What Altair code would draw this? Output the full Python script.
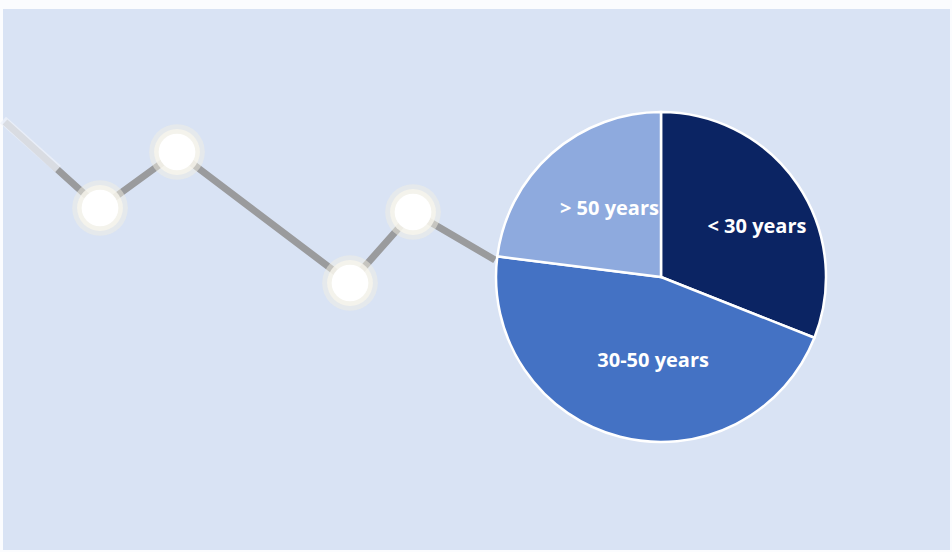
import altair as alt
import pandas as pd

# Pie data
groups = ["< 30 years", "30-50 years", "> 50 years"]
shares = [31, 46, 23]
colors = ["#0b2463", "#4472c4", "#8eaade"]

# Decorative line behind the pie (x, y in picture units)
line_x = [5, 100, 177, 350, 413, 495]
line_y = [122, 208, 152, 283, 212, 260]
dot_x = [100, 177, 350, 413]
dot_y = [208, 152, 283, 212]
fade_x = [3, 58]
fade_y = [120, 169]

W, H = 952, 552
xs = alt.Scale(domain=[0, W], range=[0, W], nice=False, zero=False)
ys = alt.Scale(domain=[0, H], range=[0, H], nice=False, zero=False)

pie_df = pd.DataFrame({"group": groups, "share": shares, "order": [0, 1, 2]})
line_df = pd.DataFrame({"x": line_x, "y": line_y})
dot_df = pd.DataFrame({"x": dot_x, "y": dot_y})
fade_df = pd.DataFrame({"x": fade_x, "y": fade_y})

bg = alt.Chart(pd.DataFrame({"a": [0]})).mark_rect(color="#d9e3f4").encode(
    x=alt.value(3), x2=alt.value(W - 2), y=alt.value(9), y2=alt.value(H - 2)
)

line = alt.Chart(line_df).mark_line(color="#9a9b9d", strokeWidth=7).encode(
    x=alt.X("x:Q", scale=xs, axis=None),
    y=alt.Y("y:Q", scale=ys, axis=None),
)
fade = alt.Chart(fade_df).mark_line(color="#eef2fa", strokeWidth=9, opacity=0.75).encode(
    x=alt.X("x:Q", scale=xs, axis=None),
    y=alt.Y("y:Q", scale=ys, axis=None),
)

halo = alt.Chart(dot_df).mark_circle(color="#f2efe3", opacity=0.5, size=3100).encode(
    x=alt.X("x:Q", scale=xs, axis=None),
    y=alt.Y("y:Q", scale=ys, axis=None),
)
halo2 = alt.Chart(dot_df).mark_circle(color="#f7f5ec", opacity=0.8, size=2100).encode(
    x=alt.X("x:Q", scale=xs, axis=None),
    y=alt.Y("y:Q", scale=ys, axis=None),
)
dots = alt.Chart(dot_df).mark_circle(color="#ffffff", opacity=1, size=1350).encode(
    x=alt.X("x:Q", scale=xs, axis=None),
    y=alt.Y("y:Q", scale=ys, axis=None),
)

CX, CY, R = 661, 277, 165

pie = alt.Chart(pie_df).mark_arc(radius=R, stroke="white", strokeWidth=2.5).encode(
    theta=alt.Theta("share:Q", stack=True),
    color=alt.Color("group:N", scale=alt.Scale(domain=groups, range=colors), legend=None),
    order=alt.Order("order:Q"),
    x=alt.value(CX),
    y=alt.value(CY),
)

lab = alt.Chart(pie_df).transform_joinaggregate(
    total="sum(share)"
).transform_window(
    cum="sum(share)", sort=[alt.SortField("order")]
).transform_calculate(
    mid="(datum.cum - datum.share / 2) / datum.total * 2 * PI",
    rr="datum.group == '< 30 years' ? 110 : (datum.group == '30-50 years' ? 88 : 90)",
    ox="datum.group == '< 30 years' ? 5 : (datum.group == '30-50 years' ? 14 : 8)",
    oy="datum.group == '< 30 years' ? 12 : (datum.group == '30-50 years' ? -1 : 0)",
    px=f"{CX} + datum.rr * sin(datum.mid) + datum.ox",
    py=f"{CY} - datum.rr * cos(datum.mid) + datum.oy",
).mark_text(
    font="Open Sans", fontSize=20, fontWeight="bold", color="white",
    align="center", baseline="middle",
).encode(
    x=alt.X("px:Q", scale=xs, axis=None),
    y=alt.Y("py:Q", scale=ys, axis=None),
    text="group:N",
)

chart = alt.layer(bg, line, fade, halo, halo2, dots, pie, lab).properties(
    width=W, height=H, padding=0, autosize="none", background="#fbfcfe"
).configure_view(stroke=None)

chart.save("out.html", embed_options={"renderer": "svg", "actions": False})
